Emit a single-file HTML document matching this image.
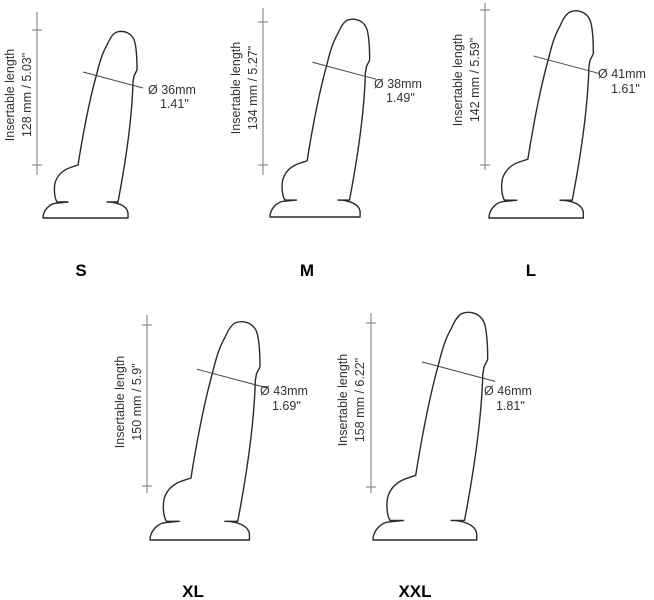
<!DOCTYPE html>
<html><head><meta charset="utf-8"><style>
html,body{margin:0;padding:0;background:#fff}
svg{display:block}
text{font-family:"Liberation Sans",sans-serif;fill:#333}
.f{fill:#fff;stroke:#2a2a2a;stroke-width:1.4;vector-effect:non-scaling-stroke;stroke-linejoin:round}
.m{stroke:#444;stroke-width:1;vector-effect:non-scaling-stroke;fill:none}
.r{stroke:#777;stroke-width:1;fill:none}
.lbl{font-weight:bold;font-size:17px;fill:#000}
.t{font-size:12.5px}
</style></head><body>
<svg width="654" height="600" viewBox="0 0 654 600" xmlns="http://www.w3.org/2000/svg">
<defs>
<g id="d">
<path class="f" d="M117 32 C124 30 133 33 135 43 C137 52 137 62 137 70 L134 76 L133 82 C132 120 126 160 118 202 L107 202 C116 202 127 205 128 213 L128 218 L43 218 C43 211 49 203 58 203 L68 202 L57 202 C54 197 54 188 55 183 C57 176 62 170 72 167 L78 165 C82 140 88 105 97 73 C100 60 104 50 107 45 C110 38 113 33 117 32 Z"/>
<line class="m" x1="83" y1="72" x2="143" y2="88"/>
</g>
</defs>
<use href="#d"/>
<use href="#d" transform="translate(270,217) scale(1.06) translate(-43,-218)"/>
<use href="#d" transform="translate(489,218) scale(1.11) translate(-43,-218)"/>
<use href="#d" transform="translate(150,540) scale(1.17) translate(-43,-218)"/>
<use href="#d" transform="translate(373,540) scale(1.22) translate(-43,-218)"/>

<g class="r">
<path d="M37 12V175M32 30H42M32 165H42"/>
<path d="M263 8V175M258 22H268M258 165H268"/>
<path d="M485 3V170M480 10H490M480 165H490"/>
<path d="M147 315V493M142 325H152M142 486H152"/>
<path d="M371 313V493M366 323H376M366 487H376"/>
</g>

<g class="t">
<text transform="translate(14,95) rotate(-90)" text-anchor="middle">Insertable length</text>
<text transform="translate(31,95) rotate(-90)" text-anchor="middle">128 mm / 5.03"</text>
<text transform="translate(240,88) rotate(-90)" text-anchor="middle">Insertable length</text>
<text transform="translate(257,88) rotate(-90)" text-anchor="middle">134 mm / 5.27"</text>
<text transform="translate(462,80) rotate(-90)" text-anchor="middle">Insertable length</text>
<text transform="translate(479,80) rotate(-90)" text-anchor="middle">142 mm / 5.59"</text>
<text transform="translate(124,402) rotate(-90)" text-anchor="middle">Insertable length</text>
<text transform="translate(141,402) rotate(-90)" text-anchor="middle">150 mm / 5.9"</text>
<text transform="translate(347,400) rotate(-90)" text-anchor="middle">Insertable length</text>
<text transform="translate(364,400) rotate(-90)" text-anchor="middle">158 mm / 6.22"</text>

<text x="148" y="94">Ø 36mm</text><text x="160" y="108">1.41"</text>
<text x="374" y="88">Ø 38mm</text><text x="386" y="102">1.49"</text>
<text x="598" y="78">Ø 41mm</text><text x="611" y="93">1.61"</text>
<text x="260" y="395">Ø 43mm</text><text x="272" y="410">1.69"</text>
<text x="484" y="395">Ø 46mm</text><text x="496" y="410">1.81"</text>
</g>

<text class="lbl" x="81" y="276" text-anchor="middle">S</text>
<text class="lbl" x="307" y="276" text-anchor="middle">M</text>
<text class="lbl" x="531" y="276" text-anchor="middle">L</text>
<text class="lbl" x="193" y="597" text-anchor="middle">XL</text>
<text class="lbl" x="415" y="597" text-anchor="middle">XXL</text>
</svg>
</body></html>
